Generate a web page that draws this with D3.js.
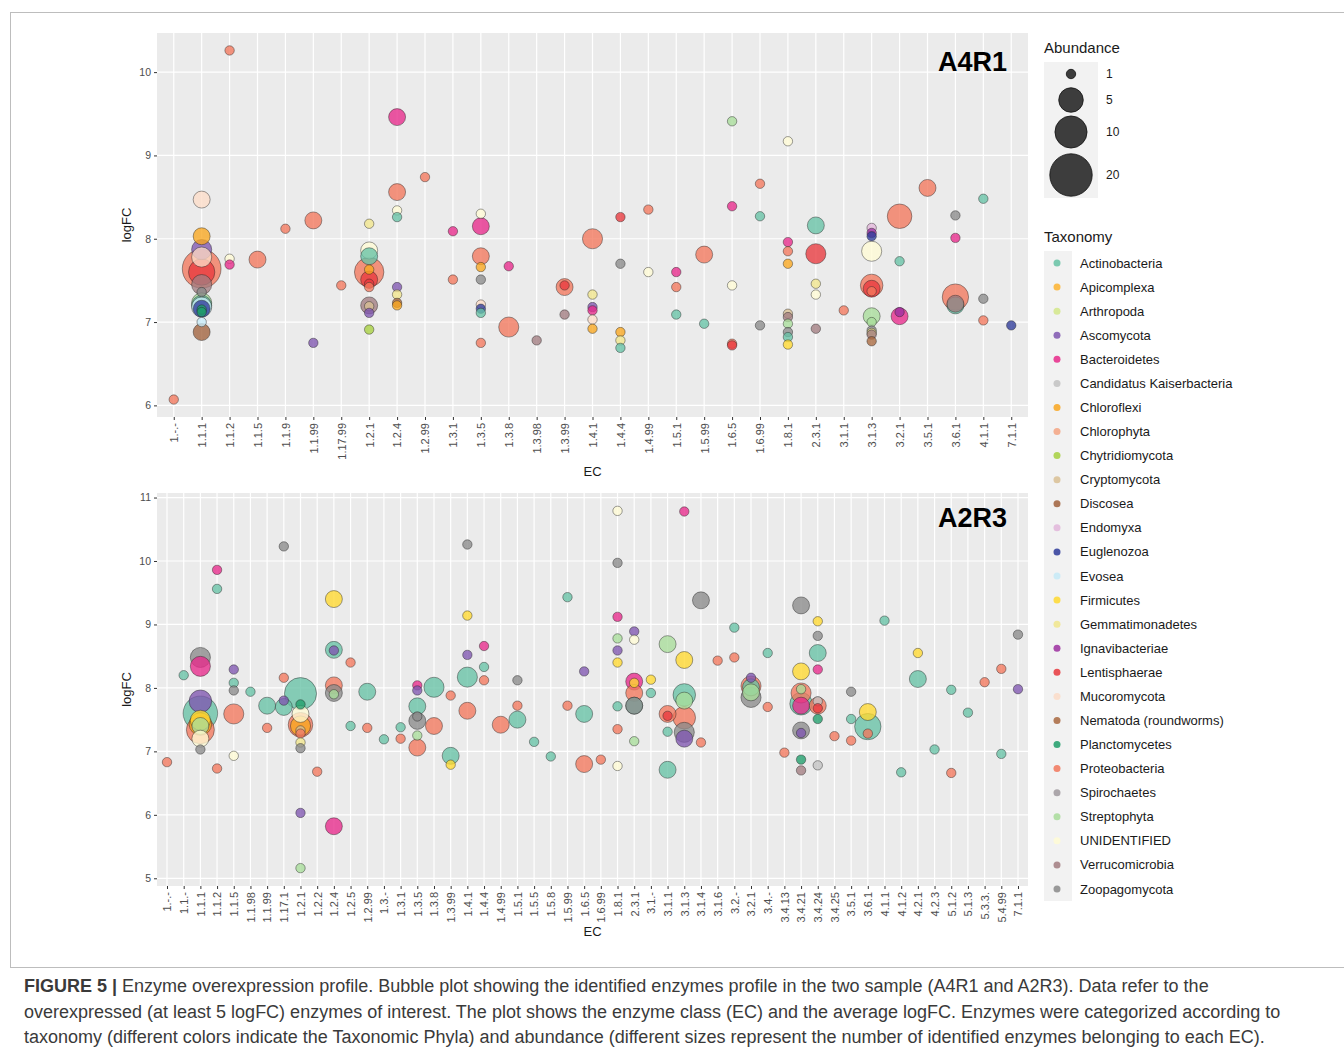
<!DOCTYPE html>
<html>
<head>
<meta charset="utf-8">
<script src="https://cdn.jsdelivr.net/npm/d3@7"></script>
<style>
  body { margin: 0; background: #fff; }
  svg { font-family: "Liberation Sans", Arial, sans-serif; }
</style>
</head>
<body>
<svg id="fig" width="1344" height="1053"></svg>
<script>
// EC categories shown on each panel
const ecA4R1 = ['1.-.-', '1.1.1', '1.1.2', '1.1.5', '1.1.9', '1.1.99', '1.17.99', '1.2.1', '1.2.4', '1.2.99',
  '1.3.1', '1.3.5', '1.3.8', '1.3.98', '1.3.99', '1.4.1', '1.4.4', '1.4.99', '1.5.1', '1.5.99', '1.6.5',
  '1.6.99', '1.8.1', '2.3.1', '3.1.1', '3.1.3', '3.2.1', '3.5.1', '3.6.1', '4.1.1', '7.1.1']

const ecA2R3 = ['1.-.-', '1.1.-', '1.1.1', '1.1.2', '1.1.5', '1.1.98', '1.1.99', '1.17.1', '1.2.1', '1.2.2',
  '1.2.4', '1.2.5', '1.2.99', '1.3.-', '1.3.1', '1.3.5', '1.3.8', '1.3.99', '1.4.1', '1.4.4', '1.4.99',
  '1.5.1', '1.5.5', '1.5.8', '1.5.99', '1.6.5', '1.6.99', '1.8.1', '2.3.1', '3.1.-', '3.1.1', '3.1.3',
  '3.1.4', '3.1.6', '3.2.-', '3.2.1', '3.4.-', '3.4.13', '3.4.21', '3.4.24', '3.4.25', '3.5.1', '3.6.1',
  '4.1.1', '4.1.2', '4.2.1', '4.2.3', '5.1.2', '5.1.3', '5.3.3.', '5.4.99', '7.1.1']

// taxonomy: short code, legend name, colour
const taxCodes = ['Act', 'Api', 'Art', 'Asc', 'Bac', 'Can', 'Chf', 'Chp', 'Chy', 'Cry', 'Dis', 'End', 'Eug',
  'Evo', 'Fir', 'Gem', 'Ign', 'Len', 'Muc', 'Nem', 'Pla', 'Pro', 'Spi', 'Str', 'Uni', 'Ver', 'Zoo']
const taxNames = ['Actinobacteria', 'Apicomplexa', 'Arthropoda', 'Ascomycota', 'Bacteroidetes',
  'Candidatus Kaiserbacteria', 'Chloroflexi', 'Chlorophyta', 'Chytridiomycota', 'Cryptomycota', 'Discosea',
  'Endomyxa', 'Euglenozoa', 'Evosea', 'Firmicutes', 'Gemmatimonadetes', 'Ignavibacteriae', 'Lentisphaerae',
  'Mucoromycota', 'Nematoda (roundworms)', 'Planctomycetes', 'Proteobacteria', 'Spirochaetes',
  'Streptophyta', 'UNIDENTIFIED', 'Verrucomicrobia', 'Zoopagomycota']
const taxColors = ['#66C2A5', '#FDB32F', '#D4E88A', '#7F56B0', '#E7298A', '#C2C2C2', '#F9A61F', '#F4A582',
  '#A6D03F', '#D9BF94', '#A0623C', '#E2B6DA', '#2E3B9A', '#C6EAF7', '#FFD92F', '#F1E68C', '#9C2FA0',
  '#E8383D', '#FCDCC8', '#A9693F', '#1F9E6A', '#F2775C', '#A09A9F', '#A8DC9A', '#FFFBD5', '#A27C80', '#8A8A8A']

// abundance legend breaks
const sizeBreaks = [1, 5, 10, 20]

// [EC, taxon, logFC, abundance]
const pointsA4R1 = [
  ['1.-.-', 'Pro', 6.07, 1],
  ['1.1.1', 'Muc', 8.47, 2], ['1.1.1', 'Chf', 8.03, 2], ['1.1.1', 'Asc', 7.87, 3], ['1.1.1', 'Muc', 7.78, 3],
  ['1.1.1', 'Pro', 7.64, 16], ['1.1.1', 'Len', 7.6, 6], ['1.1.1', 'Ver', 7.45, 3], ['1.1.1', 'Zoo', 7.36, 1],
  ['1.1.1', 'Str', 7.23, 3], ['1.1.1', 'Act', 7.2, 3], ['1.1.1', 'Evo', 7.18, 3], ['1.1.1', 'Eug', 7.16, 2],
  ['1.1.1', 'Pla', 7.15, 1], ['1.1.1', 'Pla', 7.12, 1], ['1.1.1', 'Evo', 7.0, 1], ['1.1.1', 'Dis', 6.88, 2],
  ['1.1.2', 'Pro', 10.26, 1], ['1.1.2', 'Uni', 7.76, 1], ['1.1.2', 'Bac', 7.69, 1],
  ['1.1.5', 'Pro', 7.75, 2],
  ['1.1.9', 'Pro', 8.12, 1],
  ['1.1.99', 'Pro', 8.22, 2], ['1.1.99', 'Asc', 6.75, 1],
  ['1.17.99', 'Pro', 7.44, 1],
  ['1.2.1', 'Gem', 8.18, 1], ['1.2.1', 'Uni', 7.86, 2], ['1.2.1', 'Act', 7.79, 2], ['1.2.1', 'Pro', 7.6, 8],
  ['1.2.1', 'Chf', 7.63, 1], ['1.2.1', 'Len', 7.51, 2], ['1.2.1', 'Len', 7.46, 1], ['1.2.1', 'Pro', 7.42, 1],
  ['1.2.1', 'Ver', 7.2, 2], ['1.2.1', 'Cry', 7.19, 1], ['1.2.1', 'Asc', 7.11, 1], ['1.2.1', 'Chy', 6.91, 1],
  ['1.2.4', 'Bac', 9.46, 2], ['1.2.4', 'Pro', 8.56, 2], ['1.2.4', 'Uni', 8.34, 1], ['1.2.4', 'Act', 8.26, 1],
  ['1.2.4', 'Asc', 7.42, 1], ['1.2.4', 'Gem', 7.33, 1], ['1.2.4', 'Nem', 7.23, 1], ['1.2.4', 'Chf', 7.2, 1],
  ['1.2.99', 'Pro', 8.74, 1],
  ['1.3.1', 'Bac', 8.09, 1], ['1.3.1', 'Pro', 7.51, 1],
  ['1.3.5', 'Uni', 8.3, 1], ['1.3.5', 'Bac', 8.15, 2], ['1.3.5', 'Pro', 7.79, 2], ['1.3.5', 'Chf', 7.66, 1],
  ['1.3.5', 'Zoo', 7.51, 1], ['1.3.5', 'Muc', 7.21, 1], ['1.3.5', 'Eug', 7.16, 1], ['1.3.5', 'Act', 7.11, 1],
  ['1.3.5', 'Pro', 6.75, 1],
  ['1.3.8', 'Bac', 7.67, 1], ['1.3.8', 'Pro', 6.94, 3],
  ['1.3.98', 'Ver', 6.78, 1],
  ['1.3.99', 'Pro', 7.42, 2], ['1.3.99', 'Len', 7.44, 1], ['1.3.99', 'Ver', 7.09, 1],
  ['1.4.1', 'Pro', 8.0, 3], ['1.4.1', 'Gem', 7.33, 1], ['1.4.1', 'Asc', 7.18, 1], ['1.4.1', 'Bac', 7.14, 1],
  ['1.4.1', 'Muc', 7.03, 1], ['1.4.1', 'Chf', 6.92, 1],
  ['1.4.4', 'Len', 8.26, 1], ['1.4.4', 'Zoo', 7.7, 1], ['1.4.4', 'Chf', 6.88, 1], ['1.4.4', 'Gem', 6.78, 1],
  ['1.4.4', 'Act', 6.69, 1],
  ['1.4.99', 'Pro', 8.35, 1], ['1.4.99', 'Uni', 7.6, 1],
  ['1.5.1', 'Bac', 7.6, 1], ['1.5.1', 'Pro', 7.42, 1], ['1.5.1', 'Act', 7.09, 1],
  ['1.5.99', 'Pro', 7.81, 2], ['1.5.99', 'Act', 6.98, 1],
  ['1.6.5', 'Str', 9.41, 1], ['1.6.5', 'Bac', 8.39, 1], ['1.6.5', 'Uni', 7.44, 1], ['1.6.5', 'Pro', 6.74, 1],
  ['1.6.5', 'Len', 6.72, 1],
  ['1.6.99', 'Pro', 8.66, 1], ['1.6.99', 'Act', 8.27, 1], ['1.6.99', 'Zoo', 6.96, 1],
  ['1.8.1', 'Uni', 9.17, 1], ['1.8.1', 'Bac', 7.96, 1], ['1.8.1', 'Pro', 7.85, 1], ['1.8.1', 'Chf', 7.7, 1],
  ['1.8.1', 'Cry', 7.1, 1], ['1.8.1', 'Ver', 7.06, 1], ['1.8.1', 'Str', 6.98, 1], ['1.8.1', 'Zoo', 6.88, 1],
  ['1.8.1', 'Act', 6.82, 1], ['1.8.1', 'Fir', 6.73, 1],
  ['2.3.1', 'Act', 8.16, 2], ['2.3.1', 'Len', 7.82, 3], ['2.3.1', 'Gem', 7.46, 1], ['2.3.1', 'Uni', 7.33, 1],
  ['2.3.1', 'Ver', 6.92, 1],
  ['3.1.1', 'Pro', 7.14, 1],
  ['3.1.3', 'End', 8.13, 1], ['3.1.3', 'Ign', 8.07, 1], ['3.1.3', 'Eug', 8.03, 1], ['3.1.3', 'Uni', 7.85, 3],
  ['3.1.3', 'Pro', 7.44, 4], ['3.1.3', 'Len', 7.4, 2], ['3.1.3', 'Pro', 7.37, 1], ['3.1.3', 'Str', 7.07, 2],
  ['3.1.3', 'Str', 7.0, 1], ['3.1.3', 'Zoo', 6.9, 1], ['3.1.3', 'Gem', 6.87, 1], ['3.1.3', 'Ver', 6.85, 1],
  ['3.1.3', 'Nem', 6.77, 1],
  ['3.2.1', 'Pro', 8.27, 5], ['3.2.1', 'Act', 7.73, 1], ['3.2.1', 'Bac', 7.07, 2], ['3.2.1', 'Ign', 7.12, 1],
  ['3.5.1', 'Pro', 8.61, 2],
  ['3.6.1', 'Zoo', 8.28, 1], ['3.6.1', 'Bac', 8.01, 1], ['3.6.1', 'Pro', 7.3, 6], ['3.6.1', 'Act', 7.2, 2],
  ['3.6.1', 'Ver', 7.22, 2],
  ['4.1.1', 'Act', 8.48, 1], ['4.1.1', 'Zoo', 7.28, 1], ['4.1.1', 'Pro', 7.02, 1],
  ['7.1.1', 'Eug', 6.96, 1]
]

const pointsA2R3 = [
  ['1.-.-', 'Pro', 6.83, 1],
  ['1.1.-', 'Act', 8.2, 1],
  ['1.1.1', 'Zoo', 8.48, 3], ['1.1.1', 'Bac', 8.34, 3], ['1.1.1', 'Asc', 7.79, 4], ['1.1.1', 'Act', 7.6, 12],
  ['1.1.1', 'Pro', 7.34, 7], ['1.1.1', 'Chf', 7.43, 4], ['1.1.1', 'Fir', 7.49, 3], ['1.1.1', 'Str', 7.4, 2],
  ['1.1.1', 'Uni', 7.2, 2], ['1.1.1', 'Zoo', 7.03, 1],
  ['1.1.2', 'Bac', 9.86, 1], ['1.1.2', 'Act', 9.56, 1], ['1.1.2', 'Pro', 6.73, 1],
  ['1.1.5', 'Asc', 8.29, 1], ['1.1.5', 'Act', 8.08, 1], ['1.1.5', 'Zoo', 7.96, 1], ['1.1.5', 'Pro', 7.59, 3],
  ['1.1.5', 'Uni', 6.93, 1],
  ['1.1.98', 'Act', 7.94, 1],
  ['1.1.99', 'Act', 7.72, 2], ['1.1.99', 'Pro', 7.37, 1],
  ['1.17.1', 'Zoo', 10.23, 1], ['1.17.1', 'Pro', 8.16, 1], ['1.17.1', 'Asc', 7.8, 1], ['1.17.1', 'Act', 7.7, 2],
  ['1.2.1', 'Act', 7.91, 10], ['1.2.1', 'Pla', 7.74, 1], ['1.2.1', 'Uni', 7.59, 2], ['1.2.1', 'Pro', 7.42, 5],
  ['1.2.1', 'Chf', 7.4, 3], ['1.2.1', 'Cry', 7.33, 1], ['1.2.1', 'Pro', 7.28, 1], ['1.2.1', 'Gem', 7.14, 1],
  ['1.2.1', 'Zoo', 7.05, 1], ['1.2.1', 'Asc', 6.03, 1], ['1.2.1', 'Str', 5.16, 1],
  ['1.2.2', 'Pro', 6.68, 1],
  ['1.2.4', 'Fir', 9.4, 2], ['1.2.4', 'Act', 8.6, 2], ['1.2.4', 'Asc', 8.59, 1], ['1.2.4', 'Pro', 8.04, 2],
  ['1.2.4', 'Zoo', 7.92, 2], ['1.2.4', 'Str', 7.9, 1], ['1.2.4', 'Bac', 5.82, 2],
  ['1.2.5', 'Pro', 8.4, 1], ['1.2.5', 'Act', 7.4, 1],
  ['1.2.99', 'Act', 7.94, 2], ['1.2.99', 'Pro', 7.37, 1],
  ['1.3.-', 'Act', 7.19, 1],
  ['1.3.1', 'Act', 7.38, 1], ['1.3.1', 'Pro', 7.2, 1],
  ['1.3.5', 'Bac', 8.04, 1], ['1.3.5', 'Asc', 7.96, 1], ['1.3.5', 'Act', 7.71, 2], ['1.3.5', 'Zoo', 7.55, 1],
  ['1.3.5', 'Zoo', 7.48, 2], ['1.3.5', 'Str', 7.25, 1], ['1.3.5', 'Pro', 7.06, 2],
  ['1.3.8', 'Act', 8.01, 3], ['1.3.8', 'Pro', 7.4, 2],
  ['1.3.99', 'Pro', 7.88, 1], ['1.3.99', 'Act', 6.93, 2], ['1.3.99', 'Fir', 6.79, 1],
  ['1.4.1', 'Zoo', 10.26, 1], ['1.4.1', 'Fir', 9.14, 1], ['1.4.1', 'Asc', 8.52, 1], ['1.4.1', 'Act', 8.17, 3],
  ['1.4.1', 'Pro', 7.64, 2],
  ['1.4.4', 'Bac', 8.66, 1], ['1.4.4', 'Act', 8.33, 1], ['1.4.4', 'Pro', 8.12, 1],
  ['1.4.99', 'Pro', 7.42, 2],
  ['1.5.1', 'Zoo', 8.12, 1], ['1.5.1', 'Pro', 7.72, 1], ['1.5.1', 'Act', 7.5, 2],
  ['1.5.5', 'Act', 7.15, 1],
  ['1.5.8', 'Act', 6.92, 1],
  ['1.5.99', 'Act', 9.43, 1], ['1.5.99', 'Pro', 7.72, 1],
  ['1.6.5', 'Asc', 8.26, 1], ['1.6.5', 'Act', 7.59, 2], ['1.6.5', 'Pro', 6.8, 2],
  ['1.6.99', 'Pro', 6.87, 1],
  ['1.8.1', 'Uni', 10.79, 1], ['1.8.1', 'Zoo', 9.97, 1], ['1.8.1', 'Bac', 9.12, 1], ['1.8.1', 'Str', 8.78, 1],
  ['1.8.1', 'Asc', 8.59, 1], ['1.8.1', 'Fir', 8.4, 1], ['1.8.1', 'Act', 7.71, 1], ['1.8.1', 'Pro', 7.35, 1],
  ['1.8.1', 'Uni', 6.77, 1],
  ['2.3.1', 'Asc', 8.89, 1], ['2.3.1', 'Uni', 8.76, 1], ['2.3.1', 'Bac', 8.1, 2], ['2.3.1', 'Fir', 8.08, 1],
  ['2.3.1', 'Pro', 7.92, 2], ['2.3.1', 'Act', 7.72, 2], ['2.3.1', 'Zoo', 7.72, 2], ['2.3.1', 'Str', 7.16, 1],
  ['3.1.-', 'Fir', 8.13, 1], ['3.1.-', 'Act', 7.92, 1],
  ['3.1.1', 'Str', 8.69, 2], ['3.1.1', 'Pro', 7.59, 2], ['3.1.1', 'Len', 7.56, 1], ['3.1.1', 'Act', 7.31, 1],
  ['3.1.1', 'Act', 6.71, 2],
  ['3.1.3', 'Bac', 10.78, 1], ['3.1.3', 'Fir', 8.44, 2], ['3.1.3', 'Act', 7.89, 4], ['3.1.3', 'Str', 7.8, 2],
  ['3.1.3', 'Pro', 7.53, 4], ['3.1.3', 'Zoo', 7.3, 3], ['3.1.3', 'Asc', 7.2, 2],
  ['3.1.4', 'Zoo', 9.38, 2], ['3.1.4', 'Pro', 7.14, 1],
  ['3.1.6', 'Pro', 8.43, 1],
  ['3.2.-', 'Act', 8.95, 1], ['3.2.-', 'Pro', 8.48, 1],
  ['3.2.1', 'Asc', 8.16, 1], ['3.2.1', 'Pro', 8.03, 3], ['3.2.1', 'Act', 8.01, 2], ['3.2.1', 'Str', 7.93, 2],
  ['3.2.1', 'Zoo', 7.85, 3],
  ['3.4.-', 'Act', 8.55, 1], ['3.4.-', 'Pro', 7.7, 1],
  ['3.4.13', 'Pro', 6.98, 1],
  ['3.4.21', 'Zoo', 9.3, 2], ['3.4.21', 'Fir', 8.26, 2], ['3.4.21', 'Str', 7.98, 1], ['3.4.21', 'Pro', 7.92, 3],
  ['3.4.21', 'Act', 7.75, 4], ['3.4.21', 'Bac', 7.72, 2], ['3.4.21', 'Zoo', 7.33, 2], ['3.4.21', 'Asc', 7.29, 1],
  ['3.4.21', 'Pla', 6.87, 1], ['3.4.21', 'Ver', 6.7, 1],
  ['3.4.24', 'Fir', 9.05, 1], ['3.4.24', 'Zoo', 8.82, 1], ['3.4.24', 'Act', 8.55, 2], ['3.4.24', 'Bac', 8.29, 1],
  ['3.4.24', 'Can', 7.79, 1], ['3.4.24', 'Pro', 7.72, 2], ['3.4.24', 'Len', 7.68, 1], ['3.4.24', 'Pla', 7.51, 1],
  ['3.4.24', 'Can', 6.78, 1],
  ['3.4.25', 'Pro', 7.24, 1],
  ['3.5.1', 'Zoo', 7.94, 1], ['3.5.1', 'Act', 7.51, 1], ['3.5.1', 'Pro', 7.17, 1],
  ['3.6.1', 'Fir', 7.62, 2], ['3.6.1', 'Act', 7.39, 6], ['3.6.1', 'Pro', 7.28, 1],
  ['4.1.1', 'Act', 9.06, 1],
  ['4.1.2', 'Act', 6.67, 1],
  ['4.2.1', 'Fir', 8.55, 1], ['4.2.1', 'Act', 8.14, 2],
  ['4.2.3', 'Act', 7.03, 1],
  ['5.1.2', 'Act', 7.97, 1], ['5.1.2', 'Pro', 6.66, 1],
  ['5.1.3', 'Act', 7.61, 1],
  ['5.3.3.', 'Pro', 8.09, 1],
  ['5.4.99', 'Pro', 8.3, 1], ['5.4.99', 'Act', 6.96, 1],
  ['7.1.1', 'Zoo', 8.84, 1], ['7.1.1', 'Asc', 7.98, 1]
]

const svg = d3.select('#fig')
const color = d3.scaleOrdinal().domain(taxCodes).range(taxColors)
const rExtra = d3.scaleSqrt().domain([0, 19]).range([0, 16.5])
const radius = (n) => 4.7 + rExtra(n - 1)

// light frame around the figure
svg.append('rect')
  .attr('x', 10.5).attr('y', 12.5).attr('width', 1345).attr('height', 955)
  .attr('fill', 'none').attr('stroke', '#bdbdbd').attr('stroke-width', 1)

function panel (cats, points, top, bottom, label, ecGap, labelDy) {
  const left = 157, right = 1028
  const x = d3.scalePoint().domain(cats).range([left, right]).padding(0.6)
  const ext = d3.extent(points, (d) => d[2])
  const pad = (ext[1] - ext[0]) * 0.05
  const y = d3.scaleLinear().domain([ext[0] - pad, ext[1] + pad]).range([bottom, top])

  const g = svg.append('g')
  g.append('rect')
    .attr('x', left).attr('y', top).attr('width', right - left).attr('height', bottom - top)
    .attr('fill', '#EBEBEB')

  const yMajor = d3.range(Math.ceil(y.domain()[0]), Math.floor(y.domain()[1]) + 1)
  const yMinor = d3.range(Math.ceil(y.domain()[0] * 2) / 2, y.domain()[1], 1)
    .filter((v) => v % 1 !== 0)

  g.selectAll('.minor').data(yMinor).enter().append('line')
    .attr('x1', left).attr('x2', right)
    .attr('y1', (d) => y(d)).attr('y2', (d) => y(d))
    .attr('stroke', '#fff').attr('stroke-width', 0.6)
  g.selectAll('.majory').data(yMajor).enter().append('line')
    .attr('x1', left).attr('x2', right)
    .attr('y1', (d) => y(d)).attr('y2', (d) => y(d))
    .attr('stroke', '#fff').attr('stroke-width', 1.2)
  g.selectAll('.majorx').data(cats).enter().append('line')
    .attr('x1', (d) => x(d)).attr('x2', (d) => x(d))
    .attr('y1', top).attr('y2', bottom)
    .attr('stroke', '#fff').attr('stroke-width', 1.2)

  // bubbles, biggest first so small ones stay visible
  const sorted = points.slice().sort((a, b) => b[3] - a[3])
  g.selectAll('.bubble').data(sorted).enter().append('circle')
    .attr('class', 'bubble')
    .attr('cx', (d) => x(d[0]))
    .attr('cy', (d) => y(d[2]))
    .attr('r', (d) => radius(d[3]))
    .attr('fill', (d) => color(d[1]))
    .attr('fill-opacity', 0.78)
    .attr('stroke', '#222')
    .attr('stroke-opacity', 0.55)
    .attr('stroke-width', 0.8)

  const xAxis = g.append('g')
    .attr('transform', `translate(0,${bottom})`)
    .call(d3.axisBottom(x).tickSize(3).tickPadding(4))
  xAxis.select('.domain').remove()
  xAxis.selectAll('line').attr('stroke', '#333')
  xAxis.selectAll('text')
    .attr('transform', 'rotate(-90)')
    .attr('x', -6).attr('y', 0).attr('dy', '0.35em')
    .attr('text-anchor', 'end')
    .attr('fill', '#4D4D4D')
    .style('font-size', '11px')

  const yAxis = g.append('g')
    .attr('transform', `translate(${left},0)`)
    .call(d3.axisLeft(y).tickValues(yMajor).tickSize(3).tickPadding(3).tickFormat(d3.format('d')))
  yAxis.select('.domain').remove()
  yAxis.selectAll('line').attr('stroke', '#333')
  yAxis.selectAll('text').attr('fill', '#4D4D4D').style('font-size', '10.5px')

  g.append('text')
    .attr('transform', `translate(131,${(top + bottom) / 2}) rotate(-90)`)
    .attr('text-anchor', 'middle')
    .style('font-size', '13px').attr('fill', '#1a1a1a')
    .text('logFC')

  g.append('text')
    .attr('x', (left + right) / 2).attr('y', bottom + ecGap)
    .attr('text-anchor', 'middle')
    .style('font-size', '13px').attr('fill', '#1a1a1a')
    .text('EC')

  g.append('text')
    .attr('x', 1007).attr('y', top + labelDy)
    .attr('text-anchor', 'end')
    .style('font-size', '27px').style('font-weight', 'bold')
    .text(label)
}

panel(ecA4R1, pointsA4R1, 33, 417, 'A4R1', 59, 38)
panel(ecA2R3, pointsA2R3, 493, 886, 'A2R3', 50, 34)

// Abundance legend
const leg = svg.append('g')
leg.append('text').attr('x', 1044).attr('y', 53)
  .style('font-size', '15px').attr('fill', '#1a1a1a').text('Abundance')
leg.append('rect').attr('x', 1044).attr('y', 62).attr('width', 54).attr('height', 136).attr('fill', '#F2F2F2')
const sizeY = d3.scaleOrdinal().domain(sizeBreaks).range([74, 100, 132, 175])
leg.selectAll('.skey').data(sizeBreaks).enter().append('circle')
  .attr('cx', 1071).attr('cy', (d) => sizeY(d)).attr('r', (d) => radius(d))
  .attr('fill', '#3d3d3d').attr('stroke', '#111').attr('stroke-width', 0.8)
leg.selectAll('.slab').data(sizeBreaks).enter().append('text')
  .attr('x', 1106).attr('y', (d) => sizeY(d)).attr('dy', '0.35em')
  .style('font-size', '12px').attr('fill', '#1a1a1a')
  .text((d) => d)

// Taxonomy legend
leg.append('text').attr('x', 1044).attr('y', 242)
  .style('font-size', '15px').attr('fill', '#1a1a1a').text('Taxonomy')
leg.append('rect').attr('x', 1044).attr('y', 251).attr('width', 28).attr('height', 650).attr('fill', '#F2F2F2')
const taxY = d3.scalePoint().domain(taxCodes).range([263, 889])
leg.selectAll('.tkey').data(taxCodes).enter().append('circle')
  .attr('cx', 1057).attr('cy', (d) => taxY(d)).attr('r', 3.5)
  .attr('fill', (d) => color(d)).attr('fill-opacity', 0.85)
leg.selectAll('.tlab').data(taxCodes).enter().append('text')
  .attr('x', 1080).attr('y', (d) => taxY(d)).attr('dy', '0.35em')
  .style('font-size', '13px').attr('fill', '#1a1a1a')
  .text((d, i) => taxNames[i])

// caption
const capLines = [
  [['FIGURE 5 | ', true], ['Enzyme overexpression profile. Bubble plot showing the identified enzymes profile in the two sample (A4R1 and A2R3). Data refer to the', false]],
  [['overexpressed (at least 5 logFC) enzymes of interest. The plot shows the enzyme class (EC) and the average logFC. Enzymes were categorized according to', false]],
  [['taxonomy (different colors indicate the Taxonomic Phyla) and abundance (different sizes represent the number of identified enzymes belonging to each EC).', false]]
]
const cap = svg.append('g')
capLines.forEach((parts, i) => {
  const t = cap.append('text')
    .attr('x', 24).attr('y', 992 + i * 25.5)
    .style('font-size', '18px').attr('fill', '#3a3a3a')
  parts.forEach((p) => {
    t.append('tspan').style('font-weight', p[1] ? 'bold' : 'normal').text(p[0])
  })
})
</script>
</body>
</html>
